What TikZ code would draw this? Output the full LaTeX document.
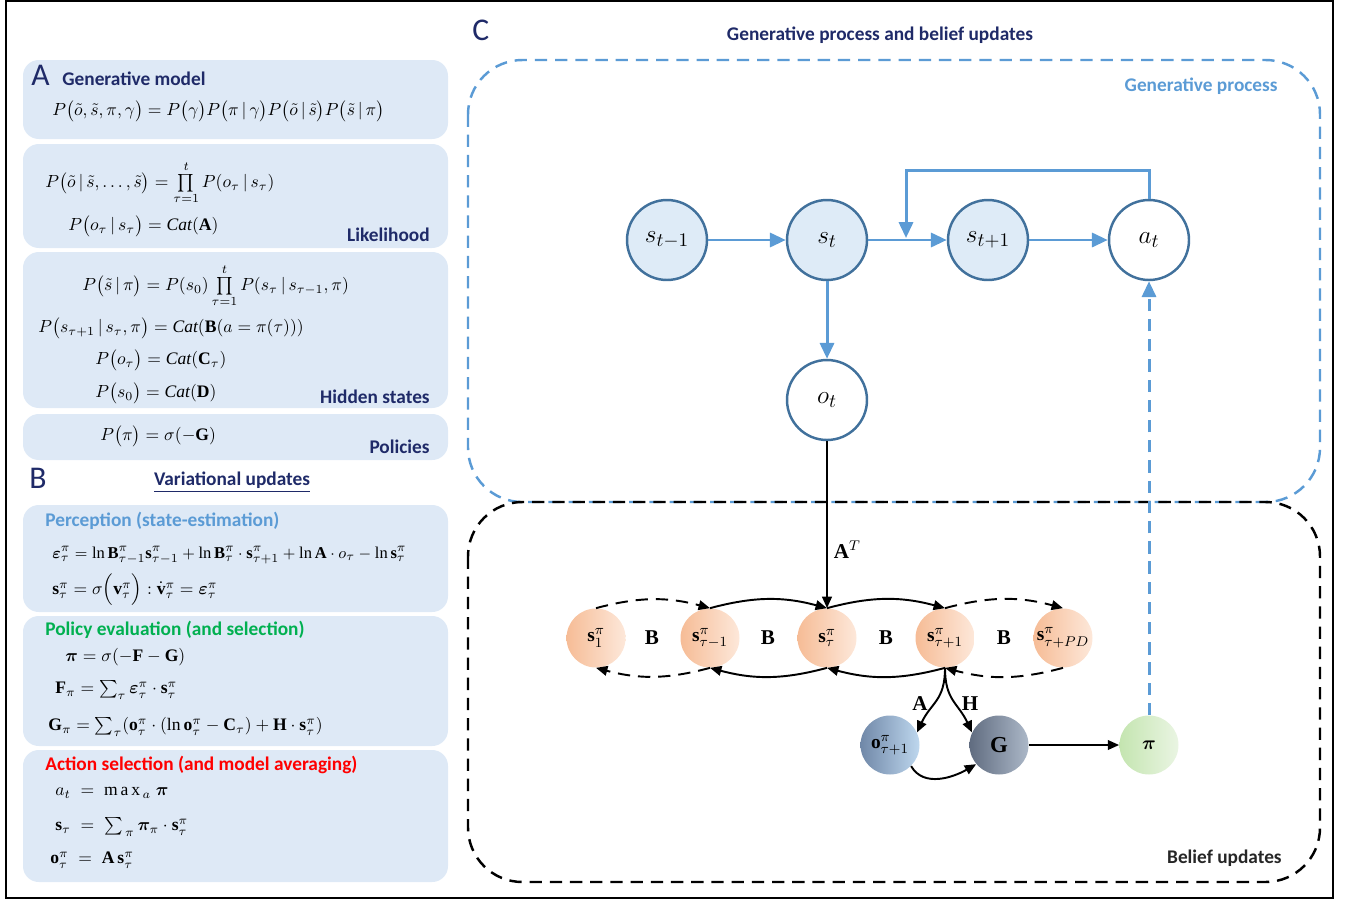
\documentclass[tikz,border=0pt]{standalone}
\usepackage{amsmath}
\usepackage{bm}
\usepackage{fontspec}
\setmainfont{Liberation Serif}
\newfontfamily\lblfont{Carlito}
\usetikzlibrary{arrows.meta,positioning}

\definecolor{navy}{RGB}{31,42,104}
\definecolor{panel}{RGB}{222,233,246}
\definecolor{procblue}{RGB}{91,155,213}
\definecolor{ringblue}{RGB}{65,113,156}
\definecolor{statefill}{RGB}{222,235,247}
\definecolor{evalgreen}{RGB}{0,176,80}
\definecolor{darktext}{RGB}{38,38,38}
\definecolor{peachL}{RGB}{246,188,150}
\definecolor{peachR}{RGB}{253,232,218}
\definecolor{slateL}{RGB}{112,136,168}
\definecolor{slateR}{RGB}{190,215,238}
\definecolor{greyL}{RGB}{96,108,128}
\definecolor{greyR}{RGB}{172,184,200}
\definecolor{mintL}{RGB}{196,229,176}
\definecolor{mintR}{RGB}{234,245,227}

\tikzset{
  panelbox/.style={fill=panel, rounded corners=9pt},
  heading/.style={font=\lblfont\bfseries\fontsize{11}{13}\selectfont, text=navy, inner sep=0pt},
  tag/.style={font=\lblfont\bfseries\fontsize{11}{13}\selectfont, text=navy, anchor=east, inner sep=0pt},
  eq/.style={anchor=west, font=\fontsize{10}{12}\selectfont, inner sep=0pt},
  gpnode/.style={circle, draw=ringblue, line width=1.4pt, minimum size=1.6cm, inner sep=0pt, font=\fontsize{15}{17}\selectfont},
  bunode/.style={circle, minimum size=1.18cm, inner sep=0pt, font=\fontsize{11}{13}\selectfont},
  gparrow/.style={draw=procblue, line width=1.7pt, -{Triangle[length=9pt,width=8pt]}},
  buarrow/.style={line width=1.1pt, -{Triangle[length=6.5pt,width=5.5pt]}},
  longdash/.style={dash pattern=on 7pt off 4.5pt}
}

\begin{document}
\begin{tikzpicture}[x=0.02cm,y=-0.02cm]
  \useasboundingbox (0,0) rectangle (1345,903);
  \draw[line width=1.2pt] (6,1) rectangle (1333,898);

  % left column: generative model
  \fill[panelbox] (23,60) rectangle (448,139);
  \fill[panelbox] (23,144) rectangle (448,248);
  \fill[panelbox] (23,252) rectangle (448,408);
  \fill[panelbox] (23,414) rectangle (448,460);
  \node[anchor=west, inner sep=0pt, text=navy, font=\lblfont\fontsize{18}{20}\selectfont] (lettA) at (31,75) {A};
  \node[heading, anchor=west] (genmodel) at (62,79) {Generative model};
  \node[eq] (eqjoint) at (52,111) {$P\bigl(\tilde{o},\tilde{s},\pi,\gamma\bigr)=P\bigl(\gamma\bigr)P\bigl(\pi\,|\,\gamma\bigr)P\bigl(\tilde{o}\,|\,\tilde{s}\bigr)P\bigl(\tilde{s}\,|\,\pi\bigr)$};
  \node[eq] (eqlik) at (45,183) {$P\bigl(\tilde{o}\,|\,\tilde{s},\ldots,\tilde{s}\bigr)=\prod\limits_{\tau=1}^{t}P(o_\tau\,|\,s_\tau)$};
  \node[eq] (eqA) at (68,226) {$P\bigl(o_\tau\,|\,s_\tau\bigr)=\mathit{Cat}(\mathbf{A})$};
  \node[tag] (likelihood) at (430,235) {Likelihood};
  \node[eq] (eqhid) at (82,286) {$P\bigl(\tilde{s}\,|\,\pi\bigr)=P(s_0)\prod\limits_{\tau=1}^{t}P(s_\tau\,|\,s_{\tau-1},\pi)$};
  \node[eq] (eqB) at (38,328) {$P\bigl(s_{\tau+1}\,|\,s_\tau,\pi\bigr)=\mathit{Cat}(\mathbf{B}(a=\pi(\tau)))$};
  \node[eq] (eqC) at (95,360) {$P\bigl(o_\tau\bigr)=\mathit{Cat}(\mathbf{C}_\tau)$};
  \node[eq] (eqD) at (95,393) {$P\bigl(s_0\bigr)=\mathit{Cat}(\mathbf{D})$};
  \node[tag] (hidden) at (430,397) {Hidden states};
  \node[eq] (eqpol) at (100,436) {$P\bigl(\pi\bigr)=\sigma(-\mathbf{G})$};
  \node[tag] (policies) at (430,447) {Policies};

  % left column: variational updates
  \node[anchor=west, inner sep=0pt, text=navy, font=\lblfont\fontsize{18}{20}\selectfont] (lettB) at (29,478) {B};
  \node[heading] (varupd) at (232,482) {\underline{Variational updates}};
  \fill[panelbox] (23,505) rectangle (448,612);
  \fill[panelbox] (23,616) rectangle (448,746);
  \fill[panelbox] (23,750) rectangle (448,882);
  \node[heading, anchor=west, text=procblue] (percep) at (45,521) {Perception (state-estimation)};
  \node[eq, font=\fontsize{9.4}{11}\selectfont] (eqeps) at (52,555) {$\bm{\varepsilon}^{\pi}_{\tau}=\ln\mathbf{B}^{\pi}_{\tau-1}\mathbf{s}^{\pi}_{\tau-1}+\ln\mathbf{B}^{\pi}_{\tau}\cdot\mathbf{s}^{\pi}_{\tau+1}+\ln\mathbf{A}\cdot o_\tau-\ln\mathbf{s}^{\pi}_{\tau}$};
  \node[eq] (eqsig) at (52,590) {$\mathbf{s}^{\pi}_{\tau}=\sigma\Bigl(\mathbf{v}^{\pi}_{\tau}\Bigr):\dot{\mathbf{v}}^{\pi}_{\tau}=\bm{\varepsilon}^{\pi}_{\tau}$};
  \node[heading, anchor=west, text=evalgreen] (poleval) at (45,630) {Policy evaluation (and selection)};
  \node[eq] (eqpi) at (65,657) {$\bm{\pi}=\sigma(-\mathbf{F}-\mathbf{G})$};
  \node[eq] (eqF) at (55,690) {$\mathbf{F}_{\pi}=\sum\nolimits_{\tau}\bm{\varepsilon}^{\pi}_{\tau}\cdot\mathbf{s}^{\pi}_{\tau}$};
  \node[eq] (eqG) at (48,727) {$\mathbf{G}_{\pi}=\sum\nolimits_{\tau}(\mathbf{o}^{\pi}_{\tau}\cdot(\ln\mathbf{o}^{\pi}_{\tau}-\mathbf{C}_{\tau})+\mathbf{H}\cdot\mathbf{s}^{\pi}_{\tau})$};
  \node[heading, anchor=west, text=red] (actsel) at (45,765) {Action selection (and model averaging)};
  \node[eq] (eqa) at (55,793) {$a_t\;=\;\mathrm{m\,a\,x}_{\,a}\;\bm{\pi}$};
  \node[eq] (eqs) at (55,827) {$\mathbf{s}_{\tau}\;=\;\sum\nolimits_{\,\pi}\bm{\pi}_{\pi}\cdot\mathbf{s}^{\pi}_{\tau}$};
  \node[eq] (eqo) at (50,860) {$\mathbf{o}^{\pi}_{\tau}\;=\;\mathbf{A}\,\mathbf{s}^{\pi}_{\tau}$};

  % right panel
  \node[anchor=west, inner sep=0pt, text=navy, font=\lblfont\fontsize{18}{20}\selectfont] (lettC) at (472,30) {C};
  \node[heading] (title) at (880,35) {Generative process and belief updates};
  \draw[procblue, line width=1.4pt, longdash, rounded corners=31pt] (468,60) rectangle (1320,502);
  \draw[line width=1.4pt, longdash, rounded corners=31pt] (468,502) rectangle (1320,882);
  \node[tag, text=procblue] (genproc) at (1278,86) {Generative process};
  \node[tag, text=darktext] (belief) at (1282,858) {Belief updates};

  \node[gpnode, fill=statefill] (sprev) at (667,240) {$s_{t-1}$};
  \node[gpnode, fill=statefill] (snow) at (827,240) {$s_t$};
  \node[gpnode, fill=statefill] (snext) at (988,240) {$s_{t+1}$};
  \node[gpnode, fill=white] (act) at (1149,240) {$a_t$};
  \node[gpnode, fill=white] (obs) at (827,400) {$o_t$};
  \coordinate (fbin) at (906,238);

  \draw[gparrow] (sprev) -- (snow);
  \draw[gparrow] (snow) -- (snext);
  \draw[gparrow] (snext) -- (act);
  \draw[gparrow] (snow) -- (obs);
  \draw[gparrow] (act.north) -- ++(0,-28) -| (fbin);

  \node[bunode, left color=peachL, right color=peachR] (bs1) at (596,638) {$\mathbf{s}^{\pi}_{1}$};
  \node[bunode, left color=peachL, right color=peachR] (bsm) at (710,638) {$\mathbf{s}^{\pi}_{\tau-1}$};
  \node[bunode, left color=peachL, right color=peachR] (bs) at (827,638) {$\mathbf{s}^{\pi}_{\tau}$};
  \node[bunode, left color=peachL, right color=peachR] (bsp) at (945,638) {$\mathbf{s}^{\pi}_{\tau+1}$};
  \node[bunode, left color=peachL, right color=peachR] (bspd) at (1063,638) {$\mathbf{s}^{\pi}_{\tau+PD}$};
  \foreach \bx/\bn in {652/1,768/2,886/3,1004/4}
    \node[font=\fontsize{12}{14}\selectfont] (blbl\bn) at (\bx,638) {$\mathbf{B}$};
  \node[bunode, left color=slateL, right color=slateR] (bo) at (890,745) {$\mathbf{o}^{\pi}_{\tau+1}$};
  \node[bunode, left color=greyL, right color=greyR, font=\fontsize{13}{15}\selectfont] (bG) at (999,745) {$\mathbf{G}$};
  \node[bunode, left color=mintL, right color=mintR] (bpi) at (1149,745) {$\bm{\pi}$};

  \draw[buarrow] (obs) -- (bs) node[pos=0.65, right, font=\fontsize{12}{14}\selectfont] (AT) {$\mathbf{A}^{T}$};
  \draw[buarrow, longdash] (bs1.north) to[bend left=15] (bsm.north);
  \draw[buarrow] (bsm.north) to[bend left=15] (bs.north);
  \draw[buarrow] (bs.north) to[bend left=15] (bsp.north);
  \draw[buarrow, longdash] (bsp.north) to[bend left=15] (bspd.north);
  \draw[buarrow, longdash] (bspd.south) to[bend left=15] (bsp.south);
  \draw[buarrow] (bsp.south) to[bend left=15] (bs.south);
  \draw[buarrow] (bs.south) to[bend left=15] (bsm.south);
  \draw[buarrow, longdash] (bsm.south) to[bend left=15] (bs1.south);
  \draw[buarrow] (bsp.south) to[out=-90,in=65,looseness=1.2] (bo.25);
  \draw[buarrow] (bsp.south) to[out=-90,in=115,looseness=1.2] (bG.155);
  \node[font=\fontsize{12}{14}\selectfont] (lblA) at (920,704) {$\mathbf{A}$};
  \node[font=\fontsize{12}{14}\selectfont] (lblH) at (970,704) {$\mathbf{H}$};
  \draw[buarrow] (bo.-45) to[out=-60,in=-150] (bG.-140);
  \draw[buarrow] (bG) -- (bpi);
  \draw[gparrow, longdash] (bpi) -- (act);
\end{tikzpicture}
\end{document}
